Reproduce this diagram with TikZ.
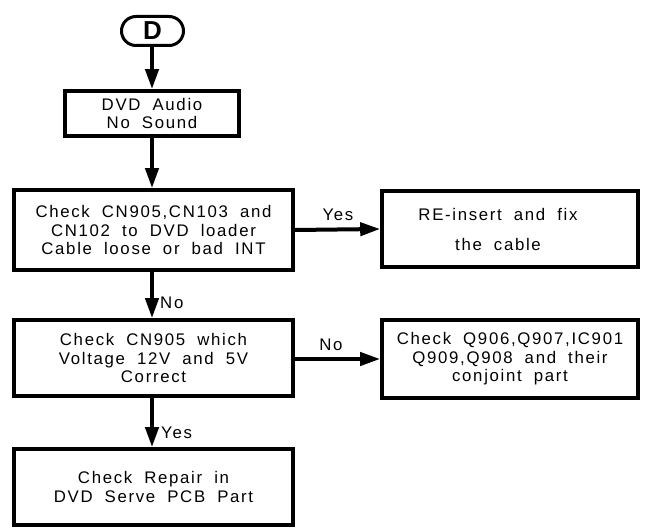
\documentclass[tikz,border=0pt]{standalone}
\usepackage{fontspec}
\setmainfont{Liberation Sans}[LetterSpace=10,WordSpace=1.9]
\usetikzlibrary{arrows.meta}
\tikzset{
  flowbox/.style={draw, line width=3.6pt, align=center, inner sep=0pt,
    font=\fontsize{16.8}{18.5}\selectfont},
  flowarrow/.style={line width=4pt, -{Triangle[length=20pt,width=13pt]}},
  lbl/.style={inner sep=0pt, font=\fontsize{16.8}{18.5}\selectfont},
}
\begin{document}
\begin{tikzpicture}[x=1pt,y=-1pt]
\useasboundingbox[fill=white] (0,0) rectangle (655,529);
\node[draw, line width=3pt, rounded corners=14.5pt, minimum width=62pt, minimum height=29pt, inner sep=0pt,
  font=\fontsize{26}{26}\bfseries\selectfont] (d) at (152.5,31) {D};
\node[flowbox, minimum width=174pt, minimum height=45pt] (b1) at (152,113.5) {DVD Audio\\No Sound};
\node[flowbox, minimum width=279pt, minimum height=80pt] (b2) at (153.5,230) {Check CN905,CN103 and\\CN102 to DVD loader\\Cable loose or bad INT};
\node[flowbox, minimum width=279pt, minimum height=76pt] (b3) at (153.5,358) {Check CN905 which\\Voltage 12V and 5V\\Correct};
\node[flowbox, minimum width=279pt, minimum height=76pt] (b4) at (153.5,487) {Check Repair in\\DVD Serve PCB Part};
\node[flowbox, minimum width=256pt, minimum height=76pt, font=\fontsize{16.8}{30}\selectfont] (b5) at (510,229) {RE-insert and fix\hspace*{24pt}\\the cable\hspace*{24pt}};
\node[flowbox, minimum width=256pt, minimum height=78pt] (b6) at (510,359) {Check Q906,Q907,IC901\\Q909,Q908 and their\\conjoint part};
\draw[flowarrow] (d.south -| b1.north) -- (b1.north);
\draw[flowarrow] (b1.south) -- (b1.south |- b2.north);
\draw[flowarrow] (b1.south |- b2.south) -- (b1.south |- b3.north);
\draw[flowarrow] (b1.south |- b3.south) -- (b1.south |- b4.north);
\draw[flowarrow] (b2.east) -- (b5.west);
\draw[flowarrow] (b2.east |- b6.west) -- (b6.west);
\node[lbl, anchor=west] (l1) at (160,303) {No};
\node[lbl, anchor=west] (l2) at (161,433) {Yes};
\node[lbl] (l3) at (338,215) {Yes};
\node[lbl] (l4) at (331,345) {No};
\end{tikzpicture}
\end{document}
